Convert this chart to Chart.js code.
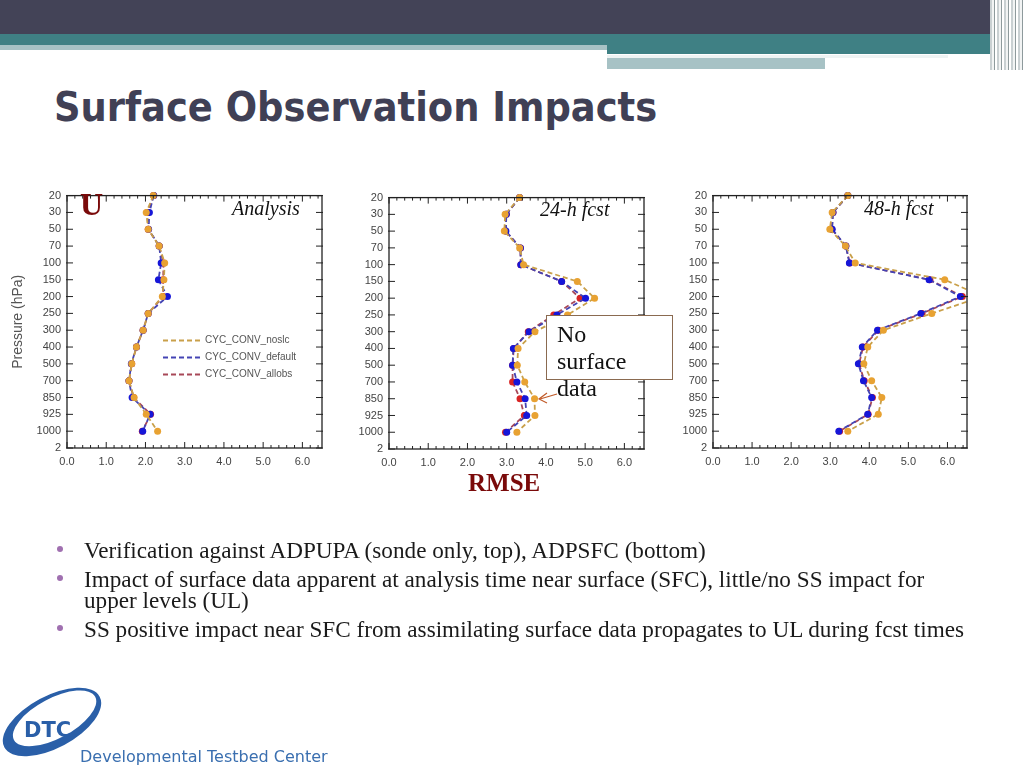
<!DOCTYPE html>
<html>
<head>
<meta charset="utf-8">
<script src="https://cdn.jsdelivr.net/npm/chart.js@4/dist/chart.umd.min.js"></script>
<style>
  body { margin: 0; background: #fff; }
  #slide { position: relative; width: 1024px; height: 768px; overflow: hidden; background: #fff; }
  .abs { position: absolute; }
  .wrap { position: absolute; }
  .ptitle { position: absolute; font-family: 'Liberation Serif', serif; font-style: italic; font-size: 20px; line-height: 1; color: #111; white-space: nowrap; }
  .bul { position: absolute; left: 84px; font-family: 'Liberation Serif', serif; font-size: 23.2px; line-height: 21px; color: #1a1a1a; white-space: nowrap; }
  .dot { position: absolute; left: 57px; width: 6px; height: 6px; border-radius: 50%; background: #a070b0; }
</style>
</head>
<body>
<div id="slide">
  <!-- header bars -->
  <div class="abs" style="left:0;top:0;width:1024px;height:34px;background:#434357"></div>
  <div class="abs" style="left:0;top:34px;width:1000px;height:11px;background:#3f8084"></div>
  <div class="abs" style="left:0;top:45px;width:607px;height:5px;background:#a7c2c5"></div>
  <div class="abs" style="left:607px;top:45px;width:393px;height:9px;background:#3f8084"></div>
  <div class="abs" style="left:607px;top:58px;width:218px;height:11px;background:#a7c2c5"></div>
  <div class="abs" style="left:607px;top:55px;width:341px;height:3px;background:#eef3f3"></div>
  <div class="abs" style="left:990px;top:0;width:34px;height:70px;background:repeating-linear-gradient(90deg,#c9d0d2 0 2px,#f2f4f4 2px 4px,#8e9a9c 4px 5px,#fff 5px 7px)"></div>

  <div class="abs" style="left:54px;top:83px;font-family:'DejaVu Sans';font-stretch:condensed;font-weight:bold;font-size:41px;color:#404055;white-space:nowrap">Surface Observation Impacts</div>

  <div class="wrap" style="left:0;top:183px;width:335px;height:292px"><canvas id="c1"></canvas></div>
  <div class="wrap" style="left:340px;top:185px;width:320px;height:292px"><canvas id="c2"></canvas></div>
  <div class="wrap" style="left:680px;top:183px;width:300px;height:292px"><canvas id="c3"></canvas></div>

  <div class="abs" style="left:80px;top:188px;font-family:'Liberation Serif',serif;font-weight:bold;font-size:32px;line-height:1;color:#7a0a0a">U</div>
  <div class="ptitle" style="left:232px;top:198px">Analysis</div>
  <div class="ptitle" style="left:540px;top:199px">24-h fcst</div>
  <div class="ptitle" style="left:864px;top:198px">48-h fcst</div>
  <div class="abs" style="left:468px;top:470px;font-family:'Liberation Serif',serif;font-weight:bold;font-size:25px;line-height:1;color:#7a0a0a">RMSE</div>

  <div class="abs" style="left:546px;top:315px;width:125px;height:63px;border:1.5px solid #8a6a50;background:#fff"></div>
  <div class="abs" style="left:557px;top:321px;font-family:'Liberation Serif',serif;font-size:24px;line-height:27px;color:#111">No<br>surface<br>data</div>
  <svg class="abs" style="left:0;top:0" width="1024" height="768">
    <line x1="557" y1="394" x2="540" y2="399" stroke="#c05a28" stroke-width="1.2"/>
    <polyline points="547,393 539,399 547,403" fill="none" stroke="#c05a28" stroke-width="1.2"/>
  </svg>

  <div class="dot" style="top:546px"></div>
  <div class="bul" style="top:540px">Verification against ADPUPA (sonde only, top), ADPSFC (bottom)</div>
  <div class="dot" style="top:575px"></div>
  <div class="bul" style="top:569px">Impact of surface data apparent at analysis time near surface (SFC), little/no SS impact for<br>upper levels (UL)</div>
  <div class="dot" style="top:625px"></div>
  <div class="bul" style="top:619px">SS positive impact near SFC from assimilating surface data propagates to UL during fcst times</div>

  <svg class="abs" style="left:0;top:676px" width="340" height="92">
    <g transform="rotate(-28 52 46)">
      <path fill-rule="evenodd" fill="#2a5fa8" d="M-2,46 a54,26 0 1,0 108,0 a54,26 0 1,0 -108,0 Z M10,44 a46,20 0 1,0 92,0 a46,20 0 1,0 -92,0 Z"/>
    </g>
    <text x="24" y="61" font-family="DejaVu Sans" font-weight="bold" font-size="21" fill="#2a5fa8">DTC</text>
    <text x="80" y="86" font-family="DejaVu Sans" font-size="16" fill="#3a6fb0">Developmental Testbed Center</text>
  </svg>
</div>

<script>
// pressure levels, top to bottom
const levels = ['20', '30', '50', '70', '100', '150', '200', '250', '300', '400', '500', '700', '850', '925', '1000', '2'];
const xTicks = [0, 1, 2, 3, 4, 5, 6];
const seriesNames = ['CYC_CONV_noslc', 'CYC_CONV_default', 'CYC_CONV_allobs'];

// Analysis
const anaNoslc   = [2.20, 2.02, 2.07, 2.35, 2.49, 2.47, 2.43, 2.07, 1.94, 1.77, 1.65, 1.58, 1.71, 2.02, 2.31, null];
const anaDefault = [2.21, 2.10, 2.08, 2.35, 2.40, 2.33, 2.56, 2.07, 1.94, 1.77, 1.64, 1.58, 1.66, 2.12, 1.93, null];
const anaAllobs  = [2.21, 2.05, 2.07, 2.35, 2.46, 2.45, 2.45, 2.07, 1.94, 1.77, 1.65, 1.58, 1.70, 2.13, 1.92, null];

// 24-h forecast
const f24Noslc   = [3.33, 2.96, 2.94, 3.33, 3.43, 4.80, 5.24, 4.55, 3.72, 3.29, 3.27, 3.46, 3.71, 3.72, 3.26, null];
const f24Default = [3.33, 2.99, 2.98, 3.35, 3.36, 4.40, 5.01, 4.28, 3.57, 3.17, 3.15, 3.26, 3.47, 3.51, 3.00, null];
const f24Allobs  = [3.33, 2.99, 2.97, 3.35, 3.36, 4.40, 4.87, 4.20, 3.55, 3.18, 3.15, 3.15, 3.34, 3.45, 2.97, null];

// 48-h forecast
const f48Noslc   = [3.45, 3.05, 2.99, 3.39, 3.64, 5.93, 6.90, 5.60, 4.36, 3.96, 3.86, 4.06, 4.32, 4.23, 3.45, null];
const f48Default = [3.45, 3.07, 3.05, 3.40, 3.49, 5.53, 6.33, 5.32, 4.21, 3.82, 3.72, 3.85, 4.06, 3.96, 3.22, null];
const f48Allobs  = [3.45, 3.07, 3.04, 3.40, 3.50, 5.55, 6.38, 5.35, 4.23, 3.84, 3.74, 3.87, 4.08, 3.97, 3.24, null];

const lineColors  = ['#c9a04a', '#4444b4', '#a84858'];
const pointColors = ['#e8a232', '#1616d8', '#d82424'];

// frame + inward tick marks, NCL style
const framePlugin = {
    id: 'frame',
    afterDatasetsDraw(chart) {
        const ctx = chart.ctx;
        const a = chart.chartArea;
        const xs = chart.scales.x, ys = chart.scales.y;
        ctx.save();
        ctx.strokeStyle = '#222';
        ctx.lineWidth = 1.3;
        ctx.strokeRect(a.left, a.top, a.right - a.left, a.bottom - a.top);
        ctx.lineWidth = 1;
        ctx.beginPath();
        levels.forEach((l, i) => {
            const y = ys.getPixelForValue(i);
            ctx.moveTo(a.left - 1, y); ctx.lineTo(a.left + 6, y);
            ctx.moveTo(a.right - 6, y); ctx.lineTo(a.right + 1, y);
        });
        for (let v = 0; v <= 6.5001; v += 0.2) {
            const x = xs.getPixelForValue(v);
            const major = Math.abs(v - Math.round(v)) < 0.01;
            const len = major ? 6 : 3;
            ctx.moveTo(x, a.bottom); ctx.lineTo(x, a.bottom - len);
            ctx.moveTo(x, a.top); ctx.lineTo(x, a.top + len);
        }
        ctx.stroke();
        ctx.restore();
    }
};

// legend drawn inside the analysis panel
const innerLegend = {
    id: 'innerLegend',
    afterDatasetsDraw(chart) {
        const ctx = chart.ctx;
        const a = chart.chartArea;
        ctx.save();
        ctx.font = '10px "Liberation Sans", Arial, sans-serif';
        ctx.textBaseline = 'middle';
        seriesNames.forEach((name, i) => {
            const y = a.top + 145 + i * 17;
            ctx.strokeStyle = lineColors[i];
            ctx.lineWidth = 2;
            ctx.setLineDash([5, 3]);
            ctx.beginPath();
            ctx.moveTo(a.left + 96, y);
            ctx.lineTo(a.left + 134, y);
            ctx.stroke();
            ctx.setLineDash([]);
            ctx.fillStyle = '#555';
            ctx.fillText(name, a.left + 138, y);
        });
        ctx.restore();
    }
};

function makeDataset(i, values) {
    return {
        label: seriesNames[i],
        data: values,
        borderColor: lineColors[i],
        borderWidth: 1.8,
        borderDash: [5, 3],
        pointRadius: 3.5,
        pointBackgroundColor: pointColors[i],
        pointBorderColor: pointColors[i],
        pointBorderWidth: 0,
        tension: 0
    };
}

function makeChart(id, series, layout, extraPlugins) {
    const ctx = document.getElementById(id).getContext('2d');
    return new Chart(ctx, {
        type: 'line',
        data: {
            labels: levels,
            datasets: series.map((s, i) => makeDataset(i, s))
        },
        options: {
            responsive: true,
            maintainAspectRatio: false,
            animation: false,
            indexAxis: 'y',
            layout: { padding: { top: layout.top, right: layout.right, left: 0, bottom: 0 } },
            plugins: {
                legend: { display: false },
                tooltip: { enabled: false }
            },
            scales: {
                x: {
                    type: 'linear',
                    min: 0,
                    max: 6.5,
                    grid: { display: false, drawTicks: false },
                    border: { display: false },
                    afterBuildTicks: s => { s.ticks = xTicks.map(v => ({ value: v })); },
                    afterFit: s => { s.height = layout.xh; },
                    ticks: {
                        padding: 7,
                        color: '#444',
                        font: { family: '"Liberation Sans", Arial, sans-serif', size: 11 },
                        callback: v => v.toFixed(1)
                    }
                },
                y: {
                    type: 'category',
                    offset: false,
                    grid: { display: false, drawTicks: false },
                    border: { display: false },
                    afterFit: s => { s.width = layout.yw; },
                    title: {
                        display: !!layout.yTitle,
                        text: layout.yTitle || '',
                        color: '#555',
                        padding: { top: 10, bottom: 0 },
                        font: { family: '"Liberation Sans", Arial, sans-serif', size: 14 }
                    },
                    ticks: {
                        padding: 6,
                        autoSkip: false,
                        color: '#444',
                        font: { family: '"Liberation Sans", Arial, sans-serif', size: 11 }
                    }
                }
            }
        },
        plugins: [framePlugin].concat(extraPlugins || [])
    });
}

makeChart('c1', [anaNoslc, anaDefault, anaAllobs], { top: 10, right: 13, yw: 67, xh: 27, yTitle: 'Pressure (hPa)' }, [innerLegend]);
makeChart('c2', [f24Noslc, f24Default, f24Allobs], { top: 10, right: 16, yw: 49, xh: 28 });
makeChart('c3', [f48Noslc, f48Default, f48Allobs], { top: 10, right: 13, yw: 33, xh: 27 });
</script>
</body>
</html>
